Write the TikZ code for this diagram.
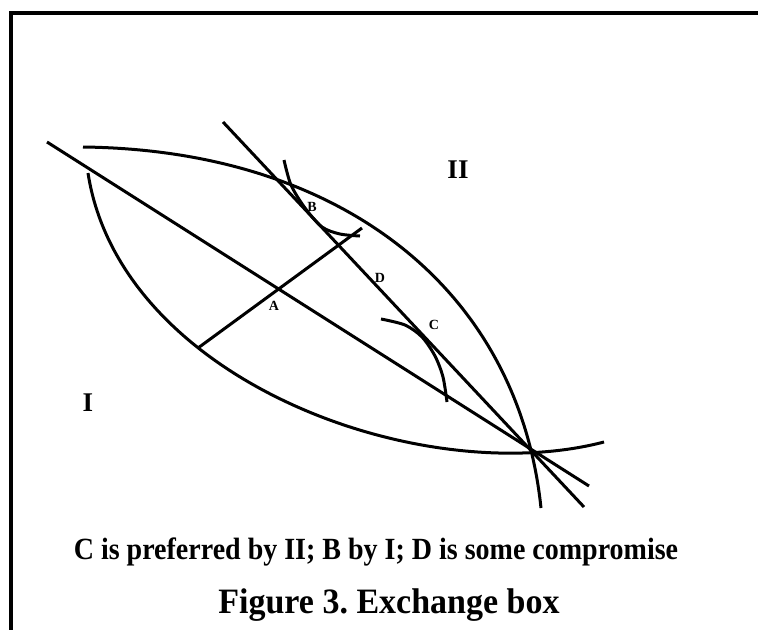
\documentclass[tikz,border=0pt]{standalone}
\usepackage{fontspec}
\setmainfont{Liberation Serif}
\frenchspacing
\begin{document}
\begin{tikzpicture}[x=1pt,y=-1pt,
  curve/.style={line width=3pt},
  frame/.style={line width=4pt},
  small/.style={font=\bfseries\fontsize{14}{16}\selectfont, inner sep=0pt},
  region/.style={font=\bfseries\fontsize{27}{30}\selectfont, inner sep=0pt},
  capA/.style={font=\bfseries\fontsize{28}{32}\selectfont, inner sep=0pt, yscale=1.1, transform shape},
  capB/.style={font=\bfseries\fontsize{34}{38}\selectfont, inner sep=0pt, yscale=1.05, transform shape}]
\useasboundingbox (0,0) rectangle (758,630);
% frame
\coordinate (fr1) at (758,13.3);
\coordinate (fr2) at (10.7,13.3);
\coordinate (fr3) at (10.7,630);
\draw[frame] (fr1) -- (fr2) -- (fr3);
% straight lines
\coordinate (l1s) at (47,142);
\coordinate (l1e) at (589,486);
\coordinate (l2s) at (223,122);
\coordinate (l2e) at (584,507);
\draw[curve] (l1s) -- (l1e);
\draw[curve] (l2s) -- (l2e);
% contract curves
\coordinate (u1) at (83,147);
\coordinate (u2) at (541,508);
\draw[curve] (u1) .. controls (340,150) and (518,288) .. (u2);
\coordinate (w1) at (88,173);
\coordinate (w2) at (604,442);
\draw[curve] (w1) .. controls (120,380) and (420,490) .. (w2);
% perpendicular
\coordinate (p1) at (198,348);
\coordinate (p2) at (362,228);
\draw[curve] (p1) -- (p2);
% indifference arcs
\draw[curve] plot[smooth] coordinates {(284,160) (291,185) (305,208) (322,227) (340,234) (360,236)};
\draw[curve] plot[smooth] coordinates {(381,319) (405,325) (422,337) (435,356) (443,377) (447,402)};
% labels
\node[small] (A) at (274,306) {A};
\node[small] (B) at (312,207) {B};
\node[small] (D) at (380,278) {D};
\node[small] (C) at (434,325) {C};
\node[region] (II) at (458,170) {II};
\node[region] (I) at (88,403) {I};
\node[capA] (cap1) at (376,552) {C is preferred by II; B by I; D is some compromise};
\node[capB] (cap2) at (389,605) {Figure 3. Exchange box};
\end{tikzpicture}
\end{document}
